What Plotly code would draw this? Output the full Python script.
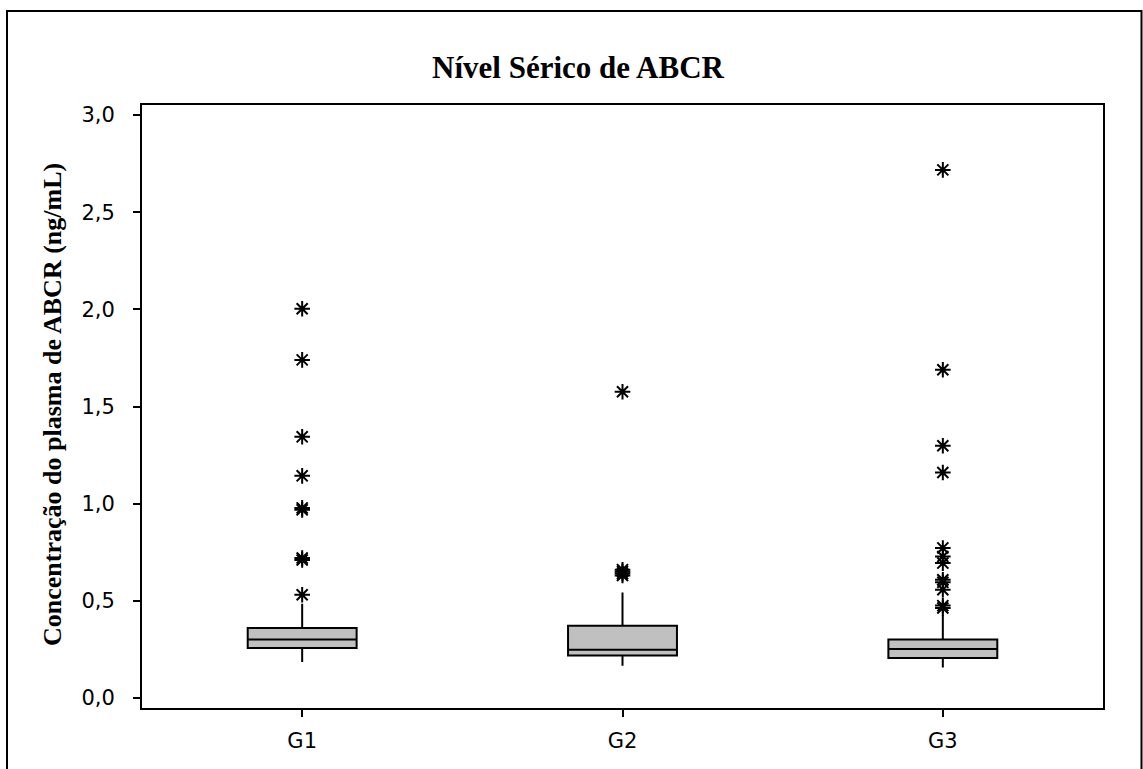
import plotly.graph_objects as go

categories = ["G1", "G2", "G3"]
q1 = [0.257, 0.218, 0.206]
median = [0.300, 0.248, 0.252]
q3 = [0.360, 0.372, 0.300]
lower_whisker = [0.185, 0.166, 0.157]
upper_whisker = [0.484, 0.543, 0.428]

outliers_g1 = [0.531, 0.710, 0.720, 0.968, 0.978, 1.143, 1.344, 1.740, 2.003]
outliers_g2 = [0.630, 0.640, 0.650, 0.660, 1.576]
outliers_g3 = [0.463, 0.475, 0.557, 0.595, 0.608, 0.694, 0.728, 0.772, 1.160, 1.298, 1.689, 2.718]

y_ticks = [0.0, 0.5, 1.0, 1.5, 2.0, 2.5, 3.0]

fig = go.Figure()

for i, cat in enumerate(categories):
    fig.add_trace(go.Box(
        x=[cat], q1=[q1[i]], median=[median[i]], q3=[q3[i]],
        lowerfence=[lower_whisker[i]], upperfence=[upper_whisker[i]],
        fillcolor="#C0C0C0", line=dict(color="black", width=2),
        whiskerwidth=0, width=0.34, boxpoints=False, showlegend=False,
        hoverinfo="skip",
    ))

for cat, vals in zip(categories, [outliers_g1, outliers_g2, outliers_g3]):
    fig.add_trace(go.Scatter(
        x=[cat] * len(vals), y=vals, mode="markers",
        marker=dict(symbol="asterisk-open", size=13,
                    line=dict(color="black", width=2), color="black"),
        showlegend=False,
    ))

L, R, T, B = 142, 40, 105, 61
W, H = 1143, 769
pw = W - L - R
ph = H - T - B

def px_x(x):
    return (x - L) / pw

def px_y(y):
    return (H - B - y) / ph

fig.add_shape(type="rect", xref="paper", yref="paper",
              x0=px_x(7), x1=px_x(1141.5), y0=px_y(800), y1=px_y(11),
              line=dict(color="black", width=2), fillcolor="rgba(0,0,0,0)")

fig.add_annotation(text="Concentração do plasma de ABCR (ng/mL)",
                   xref="paper", yref="paper", x=px_x(52), y=px_y(405),
                   textangle=-90, showarrow=False, xanchor="center", yanchor="middle",
                   font=dict(family="Liberation Serif", size=26, color="black", weight="bold"))

fig.update_layout(
    width=W, height=H,
    margin=dict(l=L, r=R, t=T, b=B),
    paper_bgcolor="white", plot_bgcolor="white",
    separators=",.",
    title=dict(text="<b>Nível Sérico de ABCR</b>", xref="container", x=578 / W,
               xanchor="center", y=1 - 67 / H, yanchor="middle",
               font=dict(family="Liberation Serif", size=31, color="black")),
    xaxis=dict(type="category", categoryorder="array", categoryarray=categories,
               range=[-0.5, 2.5], showline=True, linecolor="black", linewidth=2,
               mirror=True, ticks="outside", ticklen=7, tickwidth=1.5, tickcolor="black",
               showgrid=False, zeroline=False, ticklabelstandoff=6,
               tickfont=dict(family="DejaVu Sans", size=21, color="black")),
    yaxis=dict(range=[-0.052, 3.052], tickvals=y_ticks, tickformat=".1f",
               showline=True, linecolor="black", linewidth=2, mirror=True,
               ticks="outside", ticklen=7, tickwidth=1.5, tickcolor="black",
               showgrid=False, zeroline=False, ticklabelstandoff=14,
               tickfont=dict(family="DejaVu Sans", size=21, color="black")),
)

fig.write_html("out.html", config={"displayModeBar": False},
               post_script="document.body.style.margin='0';")
